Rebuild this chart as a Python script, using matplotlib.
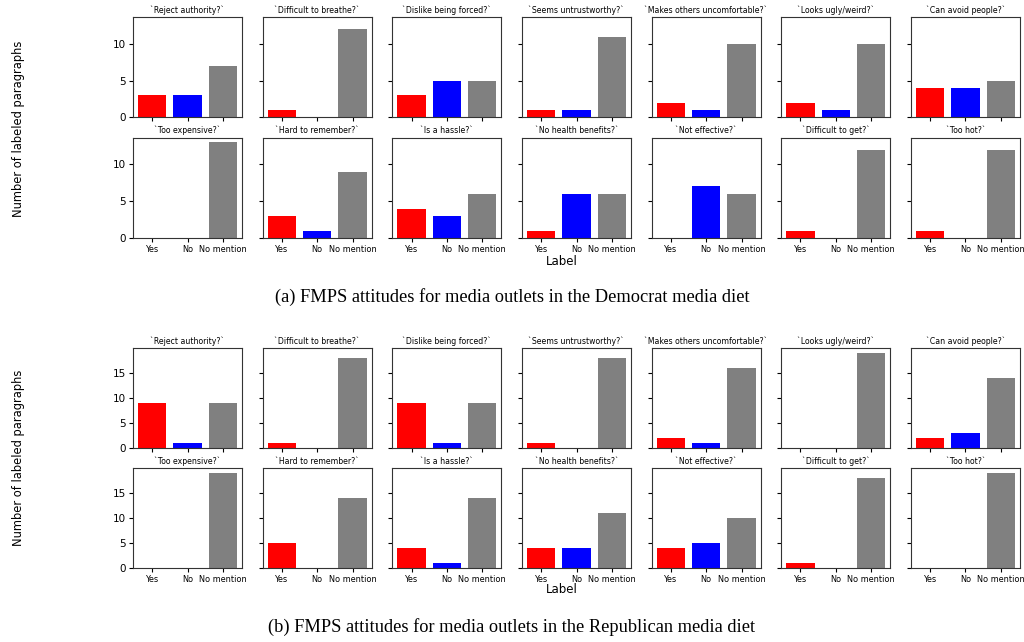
import matplotlib
matplotlib.use('Agg')
import matplotlib.pyplot as plt
import numpy as np

# attitude questions (2 rows x 7 columns)
questions = ['Reject authority?', 'Difficult to breathe?', 'Dislike being forced?',
             'Seems untrustworthy?', 'Makes others uncomfortable?', 'Looks ugly/weird?',
             'Can avoid people?',
             'Too expensive?', 'Hard to remember?', 'Is a hassle?',
             'No health benefits?', 'Not effective?', 'Difficult to get?', 'Too hot?']
labels = ['Yes', 'No', 'No mention']
colors = ['red', 'blue', 'grey']

# counts: Yes, No, No mention
dem_yes = [3, 1, 3, 1, 2, 2, 4, 0, 3, 4, 1, 0, 1, 1]
dem_no = [3, 0, 5, 1, 1, 1, 4, 0, 1, 3, 6, 7, 0, 0]
dem_none = [7, 12, 5, 11, 10, 10, 5, 13, 9, 6, 6, 6, 12, 12]

rep_yes = [9, 1, 9, 1, 2, 0, 2, 0, 5, 4, 4, 4, 1, 0]
rep_no = [1, 0, 1, 0, 1, 0, 3, 0, 0, 1, 4, 5, 0, 0]
rep_none = [9, 18, 9, 18, 16, 19, 14, 19, 14, 14, 11, 10, 18, 19]

captions = ['(a) FMPS attitudes for media outlets in the Democrat media diet',
            '(b) FMPS attitudes for media outlets in the Republican media diet']


def draw_panel(fig, top, bottom, yes, no, none, yticks):
    gs = fig.add_gridspec(2, 7, left=0.130, right=0.996, top=top, bottom=bottom,
                          wspace=0.19, hspace=0.2)
    ymax = max(max(yes), max(no), max(none))
    first = None
    for i, q in enumerate(questions):
        r, c = divmod(i, 7)
        ax = fig.add_subplot(gs[r, c], sharey=first)
        if first is None:
            first = ax
        x = np.arange(3)
        ax.bar(x, [yes[i], no[i], none[i]], color=colors, width=0.8)
        ax.set_title('`' + q + '`', fontsize=5.6, pad=3)
        ax.set_xticks(x)
        if r == 1:
            ax.set_xticklabels(labels, fontsize=5.9)
        else:
            ax.set_xticklabels([])
        ax.set_ylim(0, ymax * 1.05)
        ax.set_yticks(yticks)
        if c == 0:
            ax.tick_params(axis='y', labelsize=7.5, length=3, pad=2)
        else:
            ax.tick_params(axis='y', labelleft=False, length=3)
        ax.tick_params(axis='x', length=3, pad=2)
        for s in ax.spines.values():
            s.set_linewidth(0.8)
            s.set_color('#333333')


fig = plt.figure(figsize=(10.24, 6.42), dpi=100)

draw_panel(fig, 0.9735, 0.6293, dem_yes, dem_no, dem_none, [0, 5, 10])
draw_panel(fig, 0.458, 0.1153, rep_yes, rep_no, rep_none, [0, 5, 10, 15])

for yc, yl, ycap, cap in [(0.80, 0.592, 0.537, captions[0]),
                          (0.287, 0.081, 0.023, captions[1])]:
    fig.text(0.018, yc, 'Number of labeled paragraphs', rotation=90,
             ha='center', va='center', fontsize=8.3)
    fig.text(0.549, yl, 'Label', ha='center', va='center', fontsize=8.5)
    fig.text(0.5, ycap, cap, ha='center', va='center', fontsize=13.2,
             family='Liberation Serif')

fig.savefig('out.png', dpi=100)
